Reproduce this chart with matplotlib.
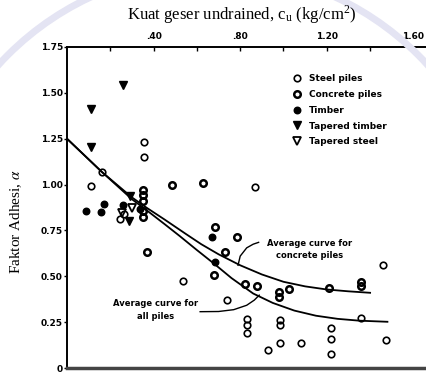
import matplotlib.pyplot as plt
import numpy as np
from matplotlib.patches import Circle

plt.rcParams.update({
    "font.family": "DejaVu Sans",
    "mathtext.fontset": "stix",
})

# --- data (x = c_u in kg/cm2, y = alpha) ---
steel_x = [0.11, 0.16, 0.356, 0.356, 0.868, 0.534, 0.737, 0.245, 0.265,
           0.833, 0.833, 0.833, 0.93, 0.984, 0.984, 0.984, 1.081,
           1.22, 1.22, 1.22, 1.358, 1.458, 1.472]
steel_y = [0.99, 1.066, 1.233, 1.152, 0.985, 0.475, 0.37, 0.81, 0.84,
           0.266, 0.235, 0.19, 0.10, 0.263, 0.232, 0.137, 0.137,
           0.217, 0.158, 0.074, 0.271, 0.559, 0.155]

concrete_x = [0.353, 0.353, 0.353, 0.353, 0.353, 0.368, 0.483, 0.63,
              0.684, 0.68, 0.731, 0.784, 0.822, 0.879, 0.98, 0.98,
              1.027, 1.21, 1.358, 1.358]
concrete_y = [0.972, 0.945, 0.913, 0.855, 0.823, 0.631, 1.0, 1.009,
              0.77, 0.505, 0.631, 0.716, 0.46, 0.446, 0.415, 0.388,
              0.433, 0.437, 0.469, 0.446]

timber_x = [0.09, 0.157, 0.172, 0.26, 0.337, 0.671, 0.684]
timber_y = [0.856, 0.85, 0.895, 0.888, 0.865, 0.716, 0.577]

tap_timber_x = [0.11, 0.11, 0.26, 0.29, 0.285]
tap_timber_y = [1.41, 1.205, 1.545, 0.935, 0.80]

tap_steel_x = [0.30, 0.255]
tap_steel_y = [0.875, 0.845]

# average curves
conc_curve_x = [0.0, 0.16, 0.30, 0.37, 0.45, 0.55, 0.62, 0.70, 0.80, 0.90,
                1.00, 1.10, 1.20, 1.30, 1.40]
conc_curve_y = [1.25, 1.07, 0.93, 0.872, 0.81, 0.73, 0.675, 0.62, 0.56, 0.51,
                0.47, 0.445, 0.428, 0.418, 0.41]
all_curve_x = [0.0, 0.16, 0.30, 0.37, 0.45, 0.52, 0.60, 0.68, 0.76, 0.86,
               0.95, 1.05, 1.15, 1.25, 1.35, 1.48]
all_curve_y = [1.25, 1.07, 0.92, 0.858, 0.785, 0.72, 0.643, 0.568, 0.49, 0.406,
               0.355, 0.313, 0.285, 0.268, 0.258, 0.252]

# leader lines for the two curve labels
conc_lead_x = [0.79, 0.80, 0.83, 0.86, 0.885]
conc_lead_y = [0.56, 0.61, 0.655, 0.675, 0.685]
all_lead_x = [0.615, 0.70, 0.77, 0.83, 0.865, 0.888]
all_lead_y = [0.307, 0.308, 0.318, 0.342, 0.37, 0.397]

top_ticks = [0.2, 0.4, 0.6, 0.8, 1.0, 1.2, 1.4, 1.6]
top_labels = ['', '.40', '', '.80', '', '1.20', '', '1.60']
y_ticks = [0, 0.25, 0.5, 0.75, 1.0, 1.25, 1.5, 1.75]
y_labels = ['0', '0.25', '0.50', '0.75', '1.00', '1.25', '1.50', '1.75']

fig = plt.figure(figsize=(4.27, 3.74), dpi=100)

# faint ring of the scanned-page watermark
fig.patches.append(Circle((2.13, 1.14), 2.9, transform=fig.dpi_scale_trans,
                          fill=False, lw=5, color='#e4e4f3', zorder=0))

ax = fig.add_axes([67 / 427, 6 / 374, 360 / 427, 321 / 374])
ax.patch.set_visible(False)
ax.set_xlim(0, 360 / 216.5)
ax.set_ylim(0, 1.75)

ms = 4.7
ax.plot(steel_x, steel_y, 'o', ms=ms, mfc='none', mec='black', mew=1.2, label='Steel piles')
ax.plot(concrete_x, concrete_y, 'o', ms=ms, mfc='none', mec='black', mew=1.8, label='Concrete piles')
ax.plot(timber_x, timber_y, 'o', ms=ms, mfc='black', mec='black', label='Timber')
ax.plot(tap_timber_x, tap_timber_y, 'v', ms=5.2, mfc='black', mec='black', label='Tapered timber')
ax.plot(tap_steel_x, tap_steel_y, 'v', ms=5.2, mfc='none', mec='black', mew=1.3, label='Tapered steel')

ax.plot(conc_curve_x, conc_curve_y, color='black', lw=1.3)
ax.plot(all_curve_x, all_curve_y, color='black', lw=1.3)
ax.plot(conc_lead_x, conc_lead_y, color='black', lw=1.0)
ax.plot(all_lead_x, all_lead_y, color='black', lw=1.0)

ax.text(1.12, 0.646, 'Average curve for\nconcrete piles', fontsize=6, fontweight='bold',
        ha='center', va='center', linespacing=1.5)
ax.text(0.41, 0.315, 'Average curve for\nall piles', fontsize=6, fontweight='bold',
        ha='center', va='center', linespacing=1.5)

leg = ax.legend(loc='upper left', bbox_to_anchor=(0.625, 0.915), frameon=False,
                prop={'size': 6.5, 'weight': 'bold'}, handlelength=1.0,
                handletextpad=0.9, labelspacing=0.75, borderpad=0, borderaxespad=0)

ax.xaxis.tick_top()
ax.set_xticks(top_ticks)
ax.set_xticklabels(top_labels, fontsize=6.5, fontweight='bold')
ax.tick_params(axis='x', direction='in', length=3, width=1, pad=4)
ax.set_yticks(y_ticks)
ax.set_yticklabels(y_labels, fontsize=6.5, fontweight='bold')
ax.tick_params(axis='y', direction='out', length=2, width=1, pad=1)

ax.spines['right'].set_visible(False)
for s in ['top', 'left', 'bottom']:
    ax.spines[s].set_linewidth(1.4)
ax.spines['bottom'].set_color('#444444')
ax.spines['bottom'].set_linewidth(2.5)

fig.text(242 / 427, 1 - 15 / 374, r'Kuat geser undrained, c$_\mathregular{u}$ (kg/cm$^\mathregular{2}$)',
         fontsize=12, family='Liberation Serif', ha='center', va='center')
fig.text(16 / 427, 1 - 222 / 374, r'Faktor Adhesi, $\alpha$', fontsize=11,
         family='Liberation Serif', rotation=90, ha='center', va='center')

fig.savefig('out.png', dpi=100)
